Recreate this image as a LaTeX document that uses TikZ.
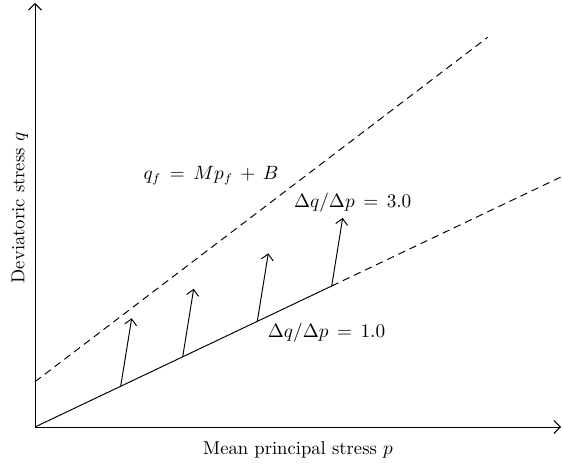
\documentclass[tikz,border=0pt]{standalone}
\usepackage{amsmath,amssymb}
\usepackage{tikz}
\usetikzlibrary{arrows.meta,calc,positioning}
\tikzset{
  axis/.style={line width=0.55pt,-{Straight Barb[length=1.3mm,width=2.6mm]}},
  shift arrow/.style={line width=0.55pt,-{Straight Barb[length=1.2mm,width=2.4mm]}},
  csl/.style={line width=0.55pt,dash pattern=on 4.2pt off 2.8pt},
  lbl/.style={font=\fontsize{10.6}{12.7}\selectfont,inner sep=0pt}
}

\begin{document}
\begin{tikzpicture}
\useasboundingbox (-0.70,-0.74) rectangle (10.54,8.54);
% axes
\coordinate (O) at (0,0);
\coordinate (qtop) at (0,8.48);
\coordinate (pend) at (10.52,0);
\draw[axis] (O) -- (pend);
\draw[axis] (O) -- (qtop);
\node[lbl] (plabel) at (5.26,-0.46) {Mean principal stress $p$};
\node[lbl,rotate=90] (qlabel) at (-0.30,4.38) {Deviatoric stress $q$};
% failure line and stress path
\coordinate (B) at (0,0.906);
\coordinate (Ftop) at (9.054,7.794);
\draw[csl] (B) -- (Ftop);
\coordinate (K) at (5.934,2.82);
\coordinate (Kend) at (10.54,5.01);
\draw[line width=0.55pt] (O) -- (K);
\draw[csl] (K) -- (Kend);
% load steps, dq/dp = 3
\foreach \x [count=\i] in {1.714,2.954,4.446,5.934}{
  \coordinate (s\i) at (\x,{0.4755*\x});
  \coordinate (t\i) at ($(s\i)+(0.22,1.36)$);
  \draw[shift arrow] (s\i) -- (t\i);
}
\node[lbl] (fail) at (3.52,5.02) {$q_f\, =\, Mp_f\, +\, B$};
\node[lbl] (three) at (6.354,4.48) {$\Delta q/\Delta p\, =\, 3.0$};
\node[lbl] (one) at (5.83,1.88) {$\Delta q/\Delta p\, =\, 1.0$};
\end{tikzpicture}
\end{document}
